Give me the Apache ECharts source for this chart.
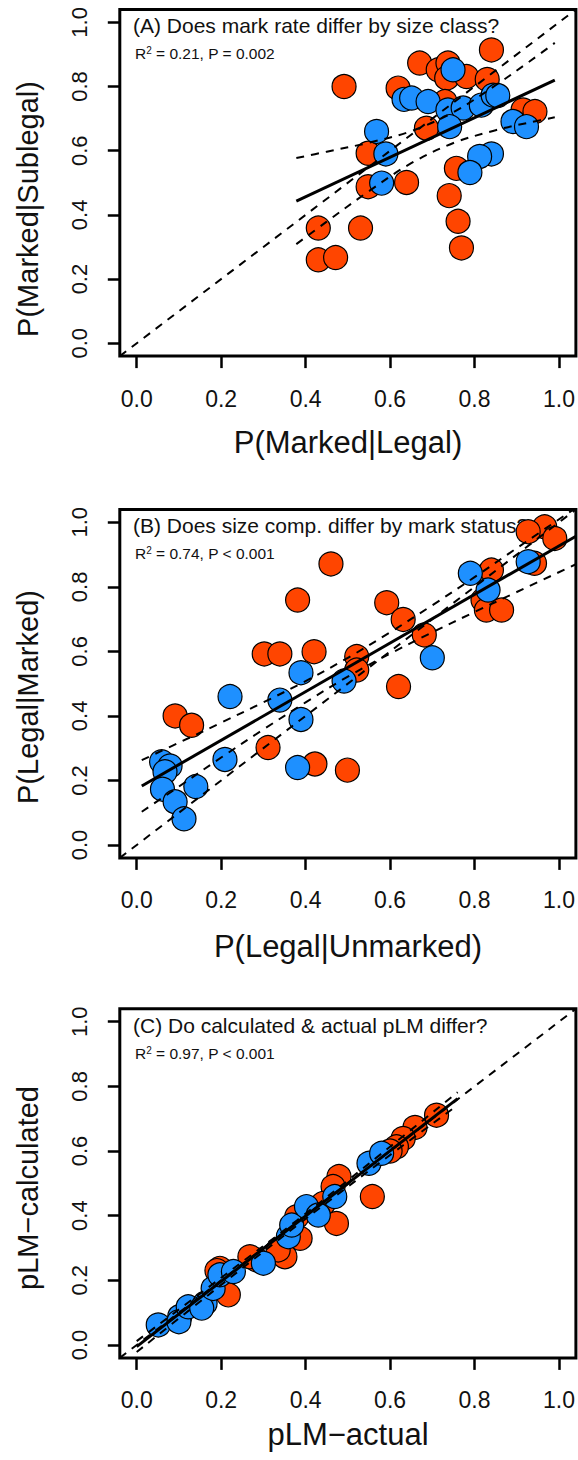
<!DOCTYPE html>
<html>
<head>
<meta charset="utf-8">
<script src="https://cdn.jsdelivr.net/npm/echarts@6/dist/echarts.min.js"></script>
<style>
html,body{margin:0;padding:0;background:#fff;}
#chart{width:578px;height:1460px;}
</style>
</head>
<body>
<div id="chart"></div>
<script>
// ---------- tick labels ----------
var tickValues = [0, 0.2, 0.4, 0.6, 0.8, 1.0];

// ---------- panel A: P(Marked|Legal) vs P(Marked|Sublegal) ----------
var aOrange = [[0.491,0.800],[0.619,0.795],[0.670,0.873],[0.714,0.852],[0.737,0.873],[0.734,0.826],[0.781,0.831],[0.830,0.822],[0.840,0.914],
  [0.730,0.753],[0.686,0.670],[0.915,0.727],[0.943,0.722],
  [0.548,0.592],[0.548,0.488],[0.639,0.501],[0.757,0.545],[0.740,0.460],[0.761,0.380],[0.769,0.297],
  [0.430,0.359],[0.530,0.359],[0.430,0.260],[0.471,0.267]];
var aBlue = [[0.749,0.852],[0.633,0.760],[0.651,0.764],[0.690,0.753],[0.737,0.727],[0.773,0.733],[0.816,0.742],[0.844,0.773],[0.855,0.772],
  [0.741,0.675],[0.891,0.691],[0.923,0.675],[0.568,0.660],[0.590,0.590],[0.580,0.499],[0.840,0.590],[0.812,0.582],[0.789,0.532]];
var aFit = [[0.378,0.443],[0.990,0.820]];
var aUpper = [[0.378,0.577],[0.45,0.597],[0.55,0.625],[0.65,0.661],[0.75,0.720],[0.85,0.804],[0.93,0.878],[0.99,0.936]];
var aLower = [[0.378,0.309],[0.45,0.379],[0.55,0.474],[0.65,0.561],[0.75,0.624],[0.85,0.664],[0.93,0.688],[0.99,0.704]];

// ---------- panel B: P(Legal|Unmarked) vs P(Legal|Marked) ----------
var bOrange = [[0.966,0.986],[0.927,0.971],[0.990,0.950],[0.942,0.873],[0.840,0.852],[0.460,0.871],[0.381,0.759],[0.592,0.751],
  [0.820,0.759],[0.828,0.728],[0.864,0.728],[0.631,0.699],[0.681,0.651],[0.302,0.592],[0.339,0.592],[0.420,0.599],[0.521,0.584],
  [0.521,0.542],[0.620,0.491],[0.091,0.400],[0.130,0.371],[0.311,0.302],[0.422,0.251],[0.499,0.232]];
var bBlue = [[0.927,0.878],[0.790,0.842],[0.832,0.790],[0.700,0.580],[0.389,0.534],[0.491,0.508],[0.221,0.460],[0.339,0.449],
  [0.389,0.389],[0.209,0.265],[0.381,0.240],[0.140,0.181],[0.059,0.258],[0.079,0.245],[0.067,0.227],[0.061,0.173],[0.091,0.134],[0.112,0.081]];
var bFit = [[0.012,0.183],[1.04,0.957]];
var bUpper = [[0.012,0.263],[0.1,0.317],[0.2,0.379],[0.3,0.442],[0.4,0.508],[0.5,0.580],[0.6,0.659],[0.7,0.743],[0.8,0.830],[0.9,0.920],[1.04,1.045]];
var bLower = [[0.012,0.103],[0.1,0.181],[0.2,0.271],[0.3,0.358],[0.4,0.442],[0.5,0.522],[0.6,0.593],[0.7,0.659],[0.8,0.722],[0.9,0.784],[1.04,0.870]];

// ---------- panel C: pLM-actual vs pLM-calculated ----------
var cOrange = [[0.710,0.711],[0.659,0.673],[0.631,0.639],[0.615,0.613],[0.600,0.600],[0.558,0.459],[0.479,0.521],[0.465,0.490],
  [0.473,0.376],[0.442,0.438],[0.379,0.397],[0.387,0.330],[0.351,0.273],[0.335,0.294],[0.284,0.263],[0.268,0.273],
  [0.197,0.237],[0.217,0.155],[0.190,0.230]];
var cBlue = [[0.051,0.062],[0.102,0.088],[0.100,0.072],[0.122,0.118],[0.162,0.129],[0.154,0.114],[0.181,0.175],[0.197,0.217],
  [0.229,0.227],[0.300,0.253],[0.359,0.335],[0.367,0.371],[0.402,0.428],[0.430,0.402],[0.469,0.459],[0.550,0.562],[0.580,0.593]];
var cFit = [[0.0,-0.005],[0.76,0.762]];
var cUpper = [[0.0,0.012],[0.2,0.208],[0.38,0.386],[0.55,0.561],[0.76,0.782]];
var cLower = [[0.0,-0.022],[0.2,0.186],[0.38,0.370],[0.55,0.539],[0.76,0.742]];

// 1:1 reference line
var oneToOne = [[-0.04,-0.04],[1.04,1.04]];

// ---------- text ----------
var xTitles = ['P(Marked|Legal)', 'P(Legal|Unmarked)', 'pLM\u2212actual'];
var yTitles = ['P(Marked|Sublegal)', 'P(Legal|Marked)', 'pLM\u2212calculated'];
var panelTitles = ['(A) Does mark rate differ by size class?', '(B) Does size comp. differ by mark status?', '(C) Do calculated & actual pLM differ?'];
var statsR2 = ['0.21', '0.74', '0.97'];
var statsP = ['P = 0.002', 'P < 0.001', 'P < 0.001'];

var FONT = '"Liberation Sans", Arial, Helvetica, sans-serif';
var ORANGE = '#FF4500', BLUE = '#1E90FF';

var grids = [
  {left: 119.8, right: 1.8, top: 9.5, bottom: 1460 - 356.1},
  {left: 119.8, right: 1.8, top: 509.4, bottom: 1460 - 857.9},
  {left: 119.8, right: 1.8, top: 1008.8, bottom: 1460 - 1357.9}
];
grids.forEach(function (g) { g.show = true; g.borderColor = '#000'; g.borderWidth = 3; g.backgroundColor = 'transparent'; });

function fmt(v) { return (Math.round(v * 10) / 10).toFixed(1); }

function makeAxis(i, isY) {
  return {
    type: 'value', gridIndex: i, min: -0.04, max: 1.04,
    position: isY ? 'left' : 'bottom',
    splitLine: {show: false},
    axisLine: {show: false, onZero: false},
    axisTick: {show: true, inside: false, length: 12, customValues: tickValues, lineStyle: {color: '#000', width: 2.5}},
    axisLabel: {
      customValues: tickValues, formatter: fmt, fontSize: isY ? 22 : 23, color: '#111', fontFamily: FONT,
      margin: isY ? 29 : 31, rotate: isY ? 90 : 0
    }
  };
}

var xAxes = [0,1,2].map(function (i) { return makeAxis(i, false); });
var yAxes = [0,1,2].map(function (i) { return makeAxis(i, true); });

function scatter(i, data, color) {
  return {type: 'scatter', xAxisIndex: i, yAxisIndex: i, data: data, symbol: 'circle', symbolSize: 24,
    itemStyle: {color: color, borderColor: '#000', borderWidth: 1.2, opacity: 1}, silent: true, z: 2};
}
function line(i, data, dashed, width, smooth) {
  return {type: 'line', xAxisIndex: i, yAxisIndex: i, data: data, showSymbol: false, symbol: 'none', smooth: smooth || false,
    clip: true, silent: true, z: 3,
    lineStyle: {color: '#000', width: width, type: dashed ? [8, 7] : 'solid'}};
}

var panels = [
  {o: aOrange, b: aBlue, fit: aFit, up: aUpper, lo: aLower},
  {o: bOrange, b: bBlue, fit: bFit, up: bUpper, lo: bLower},
  {o: cOrange, b: cBlue, fit: cFit, up: cUpper, lo: cLower}
];
var series = [];
panels.forEach(function (p, i) {
  series.push(scatter(i, p.o, ORANGE));
  series.push(scatter(i, p.b, BLUE));
  series.push(line(i, oneToOne, true, 2));
  series.push(line(i, p.up, true, 2, 0.35));
  series.push(line(i, p.lo, true, 2, 0.35));
  series.push(line(i, p.fit, false, 3));
});

// text placement
var xTitleY = [442, 946, 1434];
var yTitleY = [209, 697, 1188];
var titleY = [25.8, 525.8, 1025.8];
var statY = [53.3, 553.3, 1053.7];
var graphics = [];
for (var i = 0; i < 3; i++) {
  graphics.push({type: 'text', x: 348, y: xTitleY[i], silent: true,
    style: {text: xTitles[i], font: '31px ' + FONT, fill: '#111', align: 'center', verticalAlign: 'middle'}});
  graphics.push({type: 'text', x: 28, y: yTitleY[i], rotation: Math.PI / 2, silent: true,
    style: {text: yTitles[i], font: '29px ' + FONT, fill: '#111', align: 'center', verticalAlign: 'middle'}});
  graphics.push({type: 'text', x: 133, y: titleY[i], silent: true,
    style: {text: panelTitles[i], font: '21px ' + FONT, fill: '#111', align: 'left', verticalAlign: 'middle'}});
  graphics.push({type: 'text', x: 135, y: statY[i], silent: true,
    style: {text: '{n|R}{s|2}{n| = ' + statsR2[i] + ', ' + statsP[i] + '}', align: 'left', verticalAlign: 'middle',
      rich: {n: {fontSize: 15.5, fontFamily: FONT, fill: '#111', verticalAlign: 'bottom'},
             s: {fontSize: 10, fontFamily: FONT, fill: '#111', verticalAlign: 'top'}}}});
}

var chart = echarts.init(document.getElementById('chart'), null, {renderer: 'svg'});
chart.setOption({
  animation: false,
  backgroundColor: '#fff',
  grid: grids,
  xAxis: xAxes,
  yAxis: yAxes,
  series: series,
  graphic: graphics
});
</script>
</body>
</html>
